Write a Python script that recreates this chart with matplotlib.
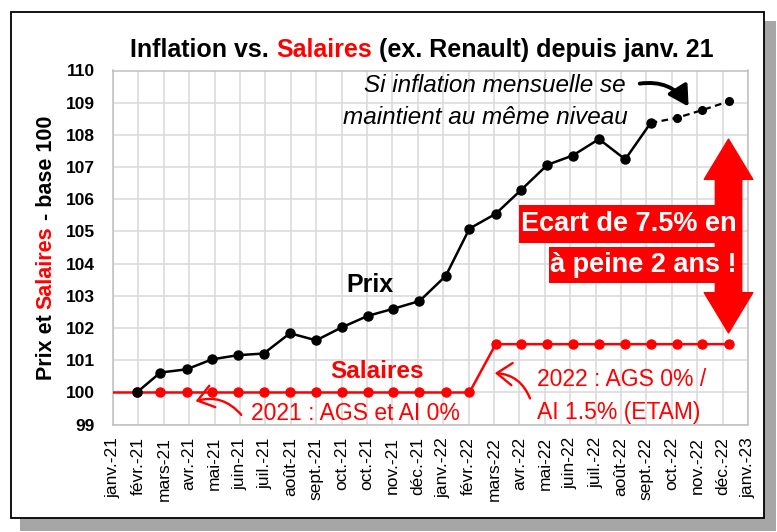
import numpy as np
import pandas as pd
import matplotlib
matplotlib.use('Agg')
import matplotlib.pyplot as plt
from matplotlib.patches import Rectangle, FancyArrowPatch

W, H = 777, 532

month_labels = ['janv.-21', 'févr.-21', 'mars-21', 'avr.-21', 'mai-21', 'juin-21', 'juil.-21',
                'août-21', 'sept.-21', 'oct.-21', 'oct.-21', 'nov.-21', 'déc.-21', 'janv.-22',
                'févr.-22', 'mars-22', 'avr.-22', 'mai-22', 'juin-22', 'juil.-22', 'août-22',
                'sept.-22', 'oct.-22', 'nov.-22', 'déc.-22', 'janv.-23']

# salaires: janv.-21 -> janv.-23 (1st of month)
salaires_dates = pd.date_range('2021-01-01', '2023-01-01', freq='MS')
salaires = [100, 100, 100, 100, 100, 100, 100, 100, 100, 100, 100, 100, 100, 100, 100,
            101.5, 101.5, 101.5, 101.5, 101.5, 101.5, 101.5, 101.5, 101.5, 101.5]

# prix: févr.-21 -> oct.-22
prix_dates = pd.date_range('2021-02-01', '2022-10-01', freq='MS')
prix = [100, 100.62, 100.72, 101.03, 101.16, 101.21, 101.84, 101.62, 102.02, 102.38, 102.6,
        102.84, 103.62, 105.09, 105.55, 106.29, 107.07, 107.36, 107.87, 107.24, 108.37]

# projection if monthly inflation stays the same
proj_dates = pd.date_range('2022-10-01', '2023-01-01', freq='MS')
proj = [108.37, 108.53, 108.77, 109.04]

# category axis every 30 days (hence the double oct.-21)
tick_dates = pd.Timestamp('2021-01-04') + pd.to_timedelta(np.arange(len(month_labels)) * 30, 'D')

plt.rcParams['font.family'] = 'Liberation Sans'
RED = '#ff0000'


def fx(x):
    return x / W


def fy(y):
    return 1 - y / H


def draw_pieces(fig, x, y, pieces, vertical=False, **kw):
    # several coloured bits of text one after another, centred on (x, y) in image pixels
    r = fig.canvas.get_renderer()
    probe = fig.text(0, 0, 'a a', **kw)
    w2 = probe.get_window_extent(r).width
    probe.set_text('aa')
    gap = w2 - probe.get_window_extent(r).width
    probe.remove()
    txts = []
    for s, c in pieces:
        if vertical:
            t = fig.text(0, 0, s, color=c, rotation=90, ha='center', va='bottom', **kw)
        else:
            t = fig.text(0, 0, s, color=c, ha='left', va='baseline', **kw)
        txts.append(t)
    lens = [t.get_window_extent(r).height if vertical else t.get_window_extent(r).width for t in txts]
    total = sum(lens) + gap * (len(txts) - 1)
    if vertical:
        pos = (H - y) - total / 2
    else:
        pos = x - total / 2
    for t, L in zip(txts, lens):
        if vertical:
            t.set_position((fx(x), pos / H))
        else:
            t.set_position((pos / W, fy(y)))
        pos += L + gap


def boxed_text(fig, x, y, s, size, padx, pady):
    r = fig.canvas.get_renderer()
    t = fig.text(fx(x), fy(y), s, ha='right', va='center', color='white', weight='bold',
                 size=size, zorder=6)
    bb = t.get_window_extent(r)
    fig.add_artist(Rectangle(((bb.x0 - padx) / W, (bb.y0 - pady) / H),
                             (bb.width + 2 * padx) / W, (bb.height + 2 * pady) / H,
                             transform=fig.transFigure, facecolor=RED, edgecolor='none', zorder=5))


fig = plt.figure(figsize=(W / 100, H / 100), dpi=100)

# frame + shadow
fig.add_artist(Rectangle((fx(20), fy(531)), (776 - 20) / W, (531 - 21) / H, transform=fig.transFigure,
                         facecolor='#a6a6a6', edgecolor='none', zorder=-3))
fig.add_artist(Rectangle((fx(11), fy(518)), (764 - 11) / W, (518 - 12) / H, transform=fig.transFigure,
                         facecolor='white', edgecolor='black', lw=1.3, zorder=-2))

ax = fig.add_axes([fx(113), fy(424.7), (748 - 113) / W, (424.7 - 70.5) / H])
ax.set_facecolor('white')

ax.plot(salaires_dates, salaires, color=RED, lw=1.8, marker='o', ms=6.5, markevery=list(range(1, len(salaires))),
        zorder=3)
ax.plot(prix_dates, prix, color='black', lw=1.8, marker='o', ms=6.5, zorder=4)
ax.plot(proj_dates, proj, color='black', lw=1.6, ls=(0, (3, 2)), marker='o', ms=5.5, zorder=4)

ax.set_xlim(tick_dates[0], tick_dates[-1])
ax.set_ylim(99, 110)
ax.set_yticks(np.arange(99, 111))
ax.set_xticks(tick_dates)
ax.set_xticklabels(month_labels, rotation=90, fontsize=12.5)
ax.tick_params(axis='y', length=0, pad=13, labelsize=12.5)
ax.tick_params(axis='x', length=0, pad=9)
for lab in ax.get_yticklabels():
    lab.set_fontweight('bold')
ax.grid(True, color='#d9d9d9', lw=1.1)
ax.set_axisbelow(True)
for sp in ax.spines.values():
    sp.set_color('#bfbfbf')
    sp.set_linewidth(1.1)

# title and y label with red "Salaires"
draw_pieces(fig, 422, 57, [('Inflation vs.', 'black'), ('Salaires', RED),
                           ('(ex. Renault) depuis janv. 21', 'black')], size=18, weight='bold')
draw_pieces(fig, 46, 248, [('Prix et', 'black'), ('Salaires', RED), ('- base 100', 'black')],
            vertical=True, size=15.5, weight='bold')

fig.text(fx(370), fy(285), 'Prix', ha='center', va='center', size=18, weight='bold', color='black')
fig.text(fx(377), fy(372), 'Salaires', ha='center', va='center', size=17.5, weight='bold', color=RED)

fig.text(fx(355), fy(414), '2021 : AGS et AI 0%', ha='center', va='center', size=16.5, color=RED)
fig.text(fx(537), fy(380), '2022 : AGS 0% /', ha='left', va='center', size=16.5, color=RED)
fig.text(fx(537), fy(412), 'AI 1.5% (ETAM)', ha='left', va='center', size=16.5, color=RED)

fig.text(fx(626), fy(86), 'Si inflation mensuelle se', ha='right', va='center', size=17.5, style='italic')
fig.text(fx(628), fy(118), 'maintient au même niveau', ha='right', va='center', size=17.5, style='italic')

# curved arrows
fig.add_artist(FancyArrowPatch((fx(243), fy(417)), (fx(193), fy(402)), transform=fig.transFigure,
                               arrowstyle='->,head_length=0.55,head_width=0.4', mutation_scale=20,
                               connectionstyle='arc3,rad=0.35', color=RED, lw=1.7))
fig.add_artist(FancyArrowPatch((fx(531), fy(401)), (fx(492), fy(373)), transform=fig.transFigure,
                               arrowstyle='->,head_length=0.55,head_width=0.4', mutation_scale=20,
                               connectionstyle='arc3,rad=0.35', color=RED, lw=1.7))
fig.add_artist(FancyArrowPatch((fx(637), fy(84)), (fx(690), fy(109)), transform=fig.transFigure,
                               arrowstyle='-|>,head_length=0.8,head_width=0.45', mutation_scale=15,
                               connectionstyle='arc3,rad=-0.35', color='black', lw=2.8))

# big red double arrow between the two curves
mid = (101.85 + 107.87) / 2
for tip in (107.87, 101.85):
    ax.add_patch(FancyArrowPatch((salaires_dates[-1], mid), (salaires_dates[-1], tip),
                                 arrowstyle='simple,head_length=29,head_width=35,tail_width=19',
                                 mutation_scale=1, shrinkA=0, shrinkB=0, color=RED, clip_on=False,
                                 zorder=5))

boxed_text(fig, 737, 224, 'Ecart de 7.5% en', 19.5, 2, 6)
boxed_text(fig, 737, 265, 'à peine 2 ans !', 19.5, 2, 5)

fig.savefig('out.png', dpi=100)
